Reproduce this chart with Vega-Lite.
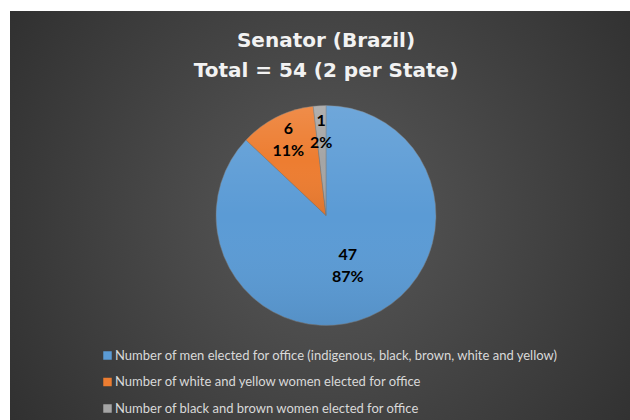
{
  "$schema": "https://vega.github.io/schema/vega-lite/v6.json",
  "autosize": {"type": "none"},
  "width": 632,
  "height": 409,
  "padding": {"top": 11, "left": 10, "right": -12, "bottom": 0},
  "background": "#ffffff",
  "config": {
    "view": {"stroke": null},
    "font": "Lato"
  },
  "title": {
    "text": ["Senator (Brazil)", "Total = 54 (2 per State)"],
    "orient": "top",
    "anchor": "middle",
    "frame": "group",
    "offset": -86,
    "baseline": "alphabetic",
    "lineHeight": 30,
    "font": "DejaVu Sans",
    "fontSize": 20,
    "fontWeight": "bold",
    "color": "#f2f2f2"
  },
  "data": {
    "values": [
      {"category": "Number of men elected for office (indigenous, black, brown, white and yellow)", "value": 47, "label": "47\n87%", "idx": 1},
      {"category": "Number of white and yellow women elected for office", "value": 6, "label": "6\n11%", "idx": 2},
      {"category": "Number of black and brown women elected for office", "value": 1, "label": "1\n2%", "idx": 3}
    ]
  },
  "layer": [
    {
      "data": {"values": [{}]},
      "mark": {"type": "rect", "fill": {"gradient": "radial", "x1": 0.5, "y1": 0.5, "r1": 0, "x2": 0.5, "y2": 0.5, "r2": 0.72,
        "stops": [{"offset": 0, "color": "#595959"}, {"offset": 1, "color": "#282828"}]}},
      "encoding": {}
    },
    {
      "mark": {"type": "arc", "outerRadius": 110, "stroke": "#7a7a7a", "strokeWidth": 0.5},
      "encoding": {
        "theta": {"field": "value", "type": "quantitative", "stack": true},
        "order": {"field": "idx", "type": "quantitative"},
        "color": {
          "field": "category",
          "type": "nominal",
          "sort": [
            "Number of men elected for office (indigenous, black, brown, white and yellow)",
            "Number of white and yellow women elected for office",
            "Number of black and brown women elected for office"
          ],
          "scale": {"range": ["#5b9bd5", "#ed7d31", "#a5a5a5"]},
          "legend": {
            "title": null,
            "orient": "none",
            "legendX": 91,
            "legendY": 338,
            "padding": 0,
            "symbolType": "square",
            "symbolSize": 72,
            "symbolStrokeWidth": 0,
            "labelFont": "Lato",
            "labelFontSize": 13,
            "labelColor": "#d9d9d9",
            "labelLimit": 600,
            "labelOffset": 1,
            "rowPadding": 12.5
          }
        }
      }
    },
    {
      "mark": {"type": "arc", "outerRadius": 110, "strokeWidth": 0,
        "fill": {"gradient": "linear", "x1": 0, "y1": 0, "x2": 0, "y2": 1,
          "stops": [{"offset": 0, "color": "rgba(255,255,255,0.12)"}, {"offset": 0.5, "color": "rgba(255,255,255,0)"}, {"offset": 1, "color": "rgba(0,0,0,0.07)"}]}},
      "encoding": {
        "theta": {"field": "value", "type": "quantitative", "stack": true},
        "order": {"field": "idx", "type": "quantitative"},
        "detail": {"field": "category", "type": "nominal"}
      }
    },
    {
      "mark": {"type": "text", "radius": 55, "dy": -11, "font": "Lato", "fontSize": 16, "fontWeight": "bold", "lineBreak": "\n", "lineHeight": 22, "fill": "#000000", "baseline": "middle"},
      "encoding": {
        "theta": {"field": "value", "type": "quantitative", "stack": true},
        "order": {"field": "idx", "type": "quantitative"},
        "detail": {"field": "category", "type": "nominal"},
        "text": {"condition": {"test": "datum.value > 10", "field": "label"}, "value": ""}
      }
    },
    {
      "mark": {"type": "text", "radius": 84, "dy": -11, "font": "Lato", "fontSize": 16, "fontWeight": "bold", "lineBreak": "\n", "lineHeight": 22, "fill": "#000000", "baseline": "middle"},
      "encoding": {
        "theta": {"field": "value", "type": "quantitative", "stack": true},
        "order": {"field": "idx", "type": "quantitative"},
        "detail": {"field": "category", "type": "nominal"},
        "text": {"condition": {"test": "datum.value <= 10", "field": "label"}, "value": ""}
      }
    }
  ]
}
